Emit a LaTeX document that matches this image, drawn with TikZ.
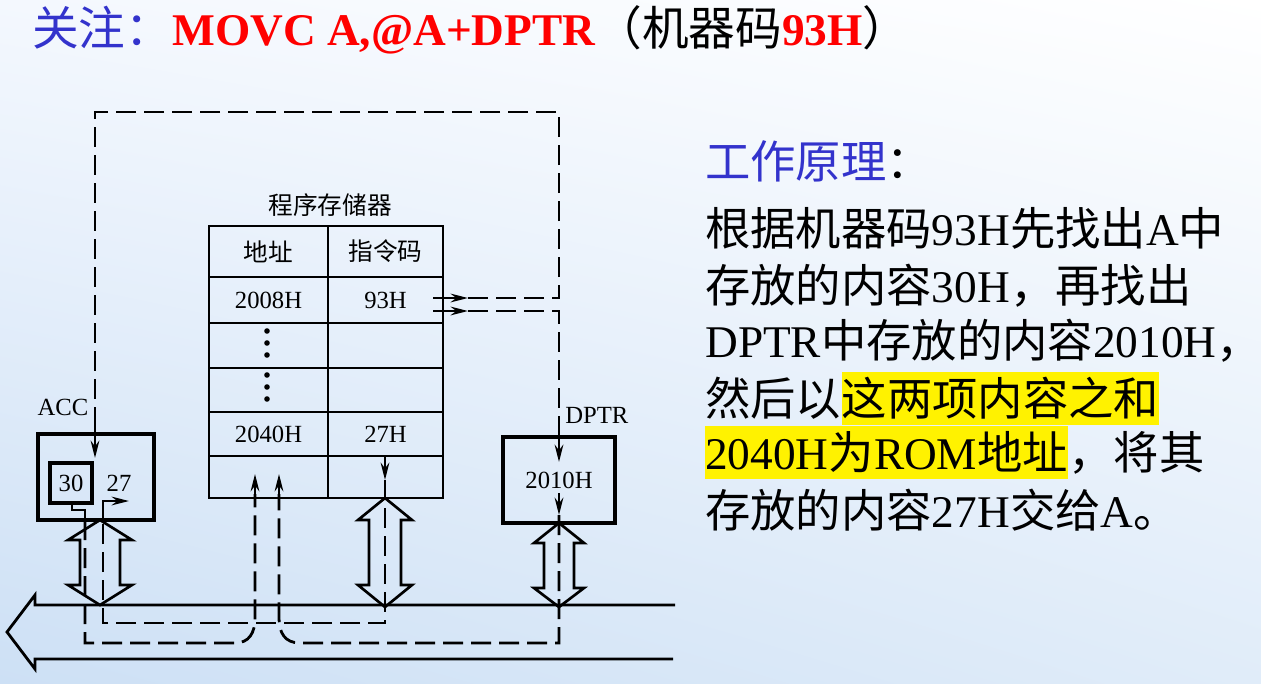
\documentclass[tikz,border=0pt]{standalone}
\usepackage{fontspec}
\setmainfont{Liberation Serif}
\newfontfamily\cjk{Noto Sans CJK SC}
\usetikzlibrary{arrows.meta,shadings}
\definecolor{tblue}{RGB}{51,51,204}
\definecolor{bgUL}{RGB}{244,248,254}
\definecolor{bgLL}{RGB}{205,224,245}
\definecolor{bgLR}{RGB}{224,236,249}
\begin{document}
\begin{tikzpicture}[x=0.75pt,y=-0.75pt,
  wh/.style 2 args={minimum width=#1*0.75pt,minimum height=#2*0.75pt},
  ln/.style={line width=2.1pt},
  dsh/.style={line width=2.1pt,dash pattern=on 15pt off 6pt},
  arr/.style={line width=2pt,-{Stealth[length=13pt,width=6.5pt]}},
  cell/.style={draw,line width=2pt,inner sep=0pt,font=\fontsize{18.5}{20}\selectfont},
  regbox/.style={draw,line width=2.8pt,inner sep=0pt,font=\fontsize{18.5}{20}\selectfont},
  dlabel/.style={inner sep=0pt,font=\fontsize{18.5}{20}\selectfont},
  body/.style={anchor=base west,inner sep=0pt,font=\fontsize{34}{38}\selectfont},
  hlt/.style={body,fill=yellow,text height=32pt,text depth=7.5pt},
  dblarrow/.style={line width=2pt}
]
\useasboundingbox (0,0) rectangle (1261,683);
\shade[upper left=bgUL,upper right=white,lower left=bgLL,lower right=bgLR] (0,0) rectangle (1261,683);

% ---------- title ----------
\node[anchor=base west,inner sep=0pt] (title) at (32,45)
 {{\cjk\fontsize{35}{38}\selectfont\color{tblue}关注：}{\fontsize{34}{38}\selectfont\bfseries\color{red}MOVC A,@A+DPTR}{\cjk\fontsize{35}{38}\selectfont（机器码}{\fontsize{34}{38}\selectfont\bfseries\color{red}93H}{\cjk\fontsize{35}{38}\selectfont）}};

% ---------- right text ----------
\node[body] (head) at (705,178) {{\cjk\color{tblue}工作原理}{\cjk ：}};
\node[body] (l1) at (705,245) {{\cjk 根据机器码}93H{\cjk 先找出}A{\cjk 中}};
\node[body] (l2) at (705,302) {{\cjk 存放的内容}30H{\cjk ，再找出}};
\node[body] (l3) at (705,357) {DPTR{\cjk 中存放的内容}2010H{\cjk ，}};
\node[body] (l4a) at (705,415) {{\cjk 然后以}};
\node[hlt] (l4b) at (l4a.base east) {{\cjk 这两项内容之和}};
\node[hlt] (l5a) at (705,469) {2040H{\cjk 为}ROM{\cjk 地址}};
\node[body] (l5b) at (l5a.base east) {{\cjk ，将其}};
\node[body] (l6) at (705,527) {{\cjk 存放的内容}27H{\cjk 交给}A{\cjk 。}};

% ---------- program memory table ----------
\node[dlabel] (pm) at (330,205) {{\cjk 程序存储器}};
\node[cell,wh={119}{51}] (c11) at (268.5,251.5) {{\cjk 地址}};
\node[cell,wh={115}{51}] (c12) at (385.5,251.5) {{\cjk 指令码}};
\node[cell,wh={119}{46}] (c21) at (268.5,300) {2008H};
\node[cell,wh={115}{46}] (c22) at (385.5,300) {93H};
\node[cell,wh={119}{45}] (c31) at (268.5,345.5) {};
\node[cell,wh={115}{45}] (c32) at (385.5,345.5) {};
\node[cell,wh={119}{44}] (c41) at (268.5,390) {};
\node[cell,wh={115}{44}] (c42) at (385.5,390) {};
\node[cell,wh={119}{44}] (c51) at (268.5,434) {2040H};
\node[cell,wh={115}{44}] (c52) at (385.5,434) {27H};
\node[cell,wh={119}{42}] (c61) at (268.5,477) {};
\node[cell,wh={115}{42}] (c62) at (385.5,477) {};
\foreach \yy in {331,343,355,375,387,399} \fill (267,\yy) circle (2.8);

% ---------- registers ----------
\node[dlabel] (acclbl) at (63,407) {ACC};
\node[regbox,wh={116}{86}] (acc) at (96,477) {};
\node[regbox,line width=2.6pt,wh={42}{40}] (a30) at (71,483) {30};
\node[dlabel] (a27) at (119,483) {27};
\node[dlabel,anchor=west] (dptrlbl) at (565,415) {DPTR};
\node[regbox,wh={112}{86}] (dptr) at (559,480) {2010H};

% ---------- bus ----------
\draw[ln] (675,605) -- (35,605) -- (35,595) -- (7,632) -- (35,669) -- (35,659) -- (673,659);

% ---------- hollow double arrows ----------
\draw[dblarrow] (100,520) -- (132,540) -- (120,540) -- (120,585) -- (132,585) -- (100,605)
  -- (68,585) -- (80,585) -- (80,540) -- (68,540) -- cycle;
\draw[dblarrow] (385,498) -- (412,520) -- (401,520) -- (401,585) -- (412,585) -- (385,607)
  -- (358,585) -- (369,585) -- (369,520) -- (358,520) -- cycle;
\draw[dblarrow] (559,523) -- (584,543) -- (574,543) -- (574,588) -- (584,588) -- (559,607)
  -- (534,588) -- (544,588) -- (544,543) -- (534,543) -- cycle;

% ---------- path 1: 93H -> A ----------
\coordinate (p1a) at (433,298);
\coordinate (p1b) at (468,298);
\coordinate (p1c) at (559,298);
\coordinate (p1d) at (559,112);
\coordinate (p1e) at (95,112);
\coordinate (p1f) at (95,425);
\coordinate (p1g) at (95,458);
\draw[arr] (p1a) -- (p1b);
\draw[dsh] (p1b) -- (p1c) -- (p1d) -- (p1e) -- (p1f);
\draw[arr] (p1f) -- (p1g);

% ---------- path 2: 93H -> DPTR ----------
\coordinate (p2a) at (433,311);
\coordinate (p2b) at (468,311);
\coordinate (p2c) at (559,311);
\coordinate (p2d) at (559,437);
\coordinate (p2e) at (559,462);
\draw[arr] (p2a) -- (p2b);
\draw[dsh] (p2b) -- (p2c) -- (p2d);
\draw[arr] (p2d) -- (p2e);

% ---------- path 3: DPTR -> address ----------
\coordinate (p3a) at (559,493);
\coordinate (p3b) at (559,515);
\coordinate (p3c) at (559,643);
\coordinate (p3d) at (300,643);
\coordinate (p3e) at (279,618);
\coordinate (p3f) at (279,494);
\coordinate (p3g) at (279,474);
\draw[arr] (p3a) -- (p3b);
\draw[dsh] (p3b) -- (p3c) -- (p3d) .. controls (285,643) and (279,633) .. (p3e) -- (p3f);
\draw[arr] (p3f) -- (p3g);

% ---------- path 4: A (30) -> address ----------
\coordinate (p4a) at (72,503);
\coordinate (p4b) at (72,510);
\coordinate (p4c) at (85,510);
\coordinate (p4d) at (85,643);
\coordinate (p4e) at (235,643);
\coordinate (p4f) at (255,618);
\coordinate (p4g) at (255,494);
\coordinate (p4h) at (255,474);
\draw[line width=2pt] (p4a) -- (p4b) -- (p4c) -- (85,520);
\draw[dsh] (85,520) -- (p4d) -- (p4e) .. controls (249,643) and (255,633) .. (p4f) -- (p4g);
\draw[arr] (p4g) -- (p4h);

% ---------- path 5: 27H -> A ----------
\coordinate (p5a) at (385,456);
\coordinate (p5b) at (385,480);
\coordinate (p5c) at (385,623);
\coordinate (p5d) at (103,623);
\coordinate (p5e) at (103,520);
\coordinate (p5f) at (103,501);
\coordinate (p5g) at (129,501);
\draw[arr] (p5a) -- (p5b);
\draw[dsh] (p5b) -- (p5c) -- (p5d) -- (p5e);
\draw[arr] (p5e) -- (p5f) -- (p5g);
\end{tikzpicture}
\end{document}
